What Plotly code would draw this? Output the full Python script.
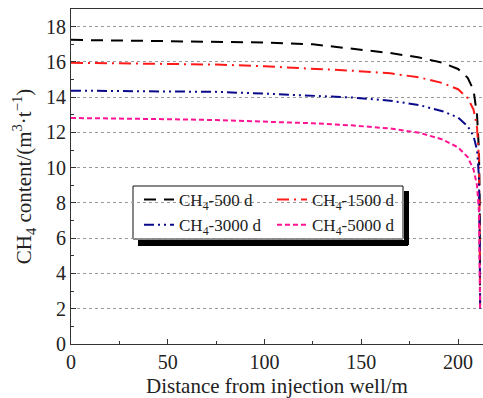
import plotly.graph_objects as go

x_vals = [0, 25, 50, 75, 100, 125, 145, 165, 180, 192, 200, 205, 208, 209.8, 210.8, 211.2, 211.4]
y_500 = [17.25, 17.22, 17.2, 17.15, 17.1, 17.0, 16.75, 16.5, 16.25, 15.95, 15.6, 15.1, 14.4, 13.0, 11.0, 8.0, 2.0]
y_1500 = [15.95, 15.93, 15.9, 15.85, 15.75, 15.62, 15.5, 15.35, 15.12, 14.8, 14.45, 13.95, 13.3, 12.3, 10.5, 7.0, 2.0]
y_3000 = [14.37, 14.35, 14.33, 14.3, 14.2, 14.1, 13.98, 13.8, 13.55, 13.2, 12.85, 12.35, 11.8, 11.0, 9.5, 6.0, 2.0]
y_5000 = [12.82, 12.8, 12.75, 12.7, 12.62, 12.52, 12.4, 12.22, 11.98, 11.6, 11.15, 10.6, 9.9, 9.0, 7.5, 5.0, 2.0]

names = ["CH<sub>4</sub>-500 d", "CH<sub>4</sub>-1500 d", "CH<sub>4</sub>-3000 d", "CH<sub>4</sub>-5000 d"]
series = [y_500, y_1500, y_3000, y_5000]
colors = ["#000000", "#ff1a1a", "#0a0a8c", "#ff1493"]
dashes = ["12px,8px", "12px,5px,2px,5px", "10px,4px,2px,4px,2px,4px", "5px,3px"]
legends = ["legend", "legend2", "legend", "legend2"]

fig = go.Figure()
for n, ys, c, d, lg in zip(names, series, colors, dashes, legends):
    fig.add_trace(go.Scatter(x=x_vals, y=ys, mode="lines", name=n, legend=lg,
                             line=dict(color=c, width=2, dash=d)))

font_family = "Liberation Serif, Times New Roman, serif"
PW, PH, L, T = 412, 335, 71, 9

def px(xp):
    return (xp - L) / PW

def py(yp):
    return (T + PH - yp) / PH

leg_common = dict(yanchor="top", xanchor="left", bgcolor="rgba(255,255,255,0)", borderwidth=0,
                  font=dict(family=font_family, size=17, color="#222"),
                  tracegroupgap=0, itemwidth=30)

fig.update_layout(
    width=483, height=398,
    margin=dict(l=71, r=0, t=9, b=54),
    paper_bgcolor="white", plot_bgcolor="white",
    font=dict(family=font_family, color="#222", size=20),
    showlegend=True,
    legend=dict(x=px(139), y=py(182), **leg_common),
    legend2=dict(x=px(272), y=py(182), **leg_common),
    xaxis=dict(
        range=[0, 212.9], tickmode="array", tickvals=[0, 50, 100, 150, 200],
        ticks="inside", ticklen=5, tickcolor="#333", showline=True, linecolor="#333",
        linewidth=1, mirror=True, showgrid=False, zeroline=False,
        minor=dict(tickvals=[25, 75, 125, 175], ticks="inside", ticklen=3, tickcolor="#333"),
        title=dict(text="Distance from injection well/m", font=dict(size=21), standoff=6),
        tickfont=dict(size=20, family=font_family),
    ),
    yaxis=dict(
        range=[0, 19], tickmode="array", tickvals=list(range(0, 19, 2)),
        ticks="inside", ticklen=5, tickcolor="#333", showline=True, linecolor="#333",
        linewidth=1, showgrid=True, gridcolor="#999", griddash="dot", gridwidth=1,
        zeroline=False,
        minor=dict(tickvals=list(range(1, 19, 2)), ticks="inside", ticklen=3, tickcolor="#333", showgrid=False),
        title=dict(text="CH<sub>4</sub> content/(m<sup>3</sup>·t<sup>−1</sup>)", font=dict(size=21), standoff=8),
        tickfont=dict(size=20, family=font_family),
    ),
)

# legend box (white fill hides gridlines)
fig.add_shape(type="rect", xref="paper", yref="paper",
              x0=px(133), x1=px(403), y0=py(239), y1=py(186),
              fillcolor="#ffffff", line=dict(width=1, color="#111"), layer="between")

# drop shadow as two black annotation boxes (drawn above the legends)
shadow_boxes = [
    (403.5, 191, 5, 54),   # right bar: left px, top px, width, height
    (138, 239.5, 270, 5.5),  # bottom bar
]
for lx, ty, w, h in shadow_boxes:
    fig.add_annotation(xref="paper", yref="paper", x=px(lx), y=py(ty),
                       xanchor="left", yanchor="top", text=" ", showarrow=False,
                       width=w, height=h, bgcolor="#000000", borderpad=0, borderwidth=0,
                       font=dict(size=1, color="#000000"))

fig.write_html("out.html")
